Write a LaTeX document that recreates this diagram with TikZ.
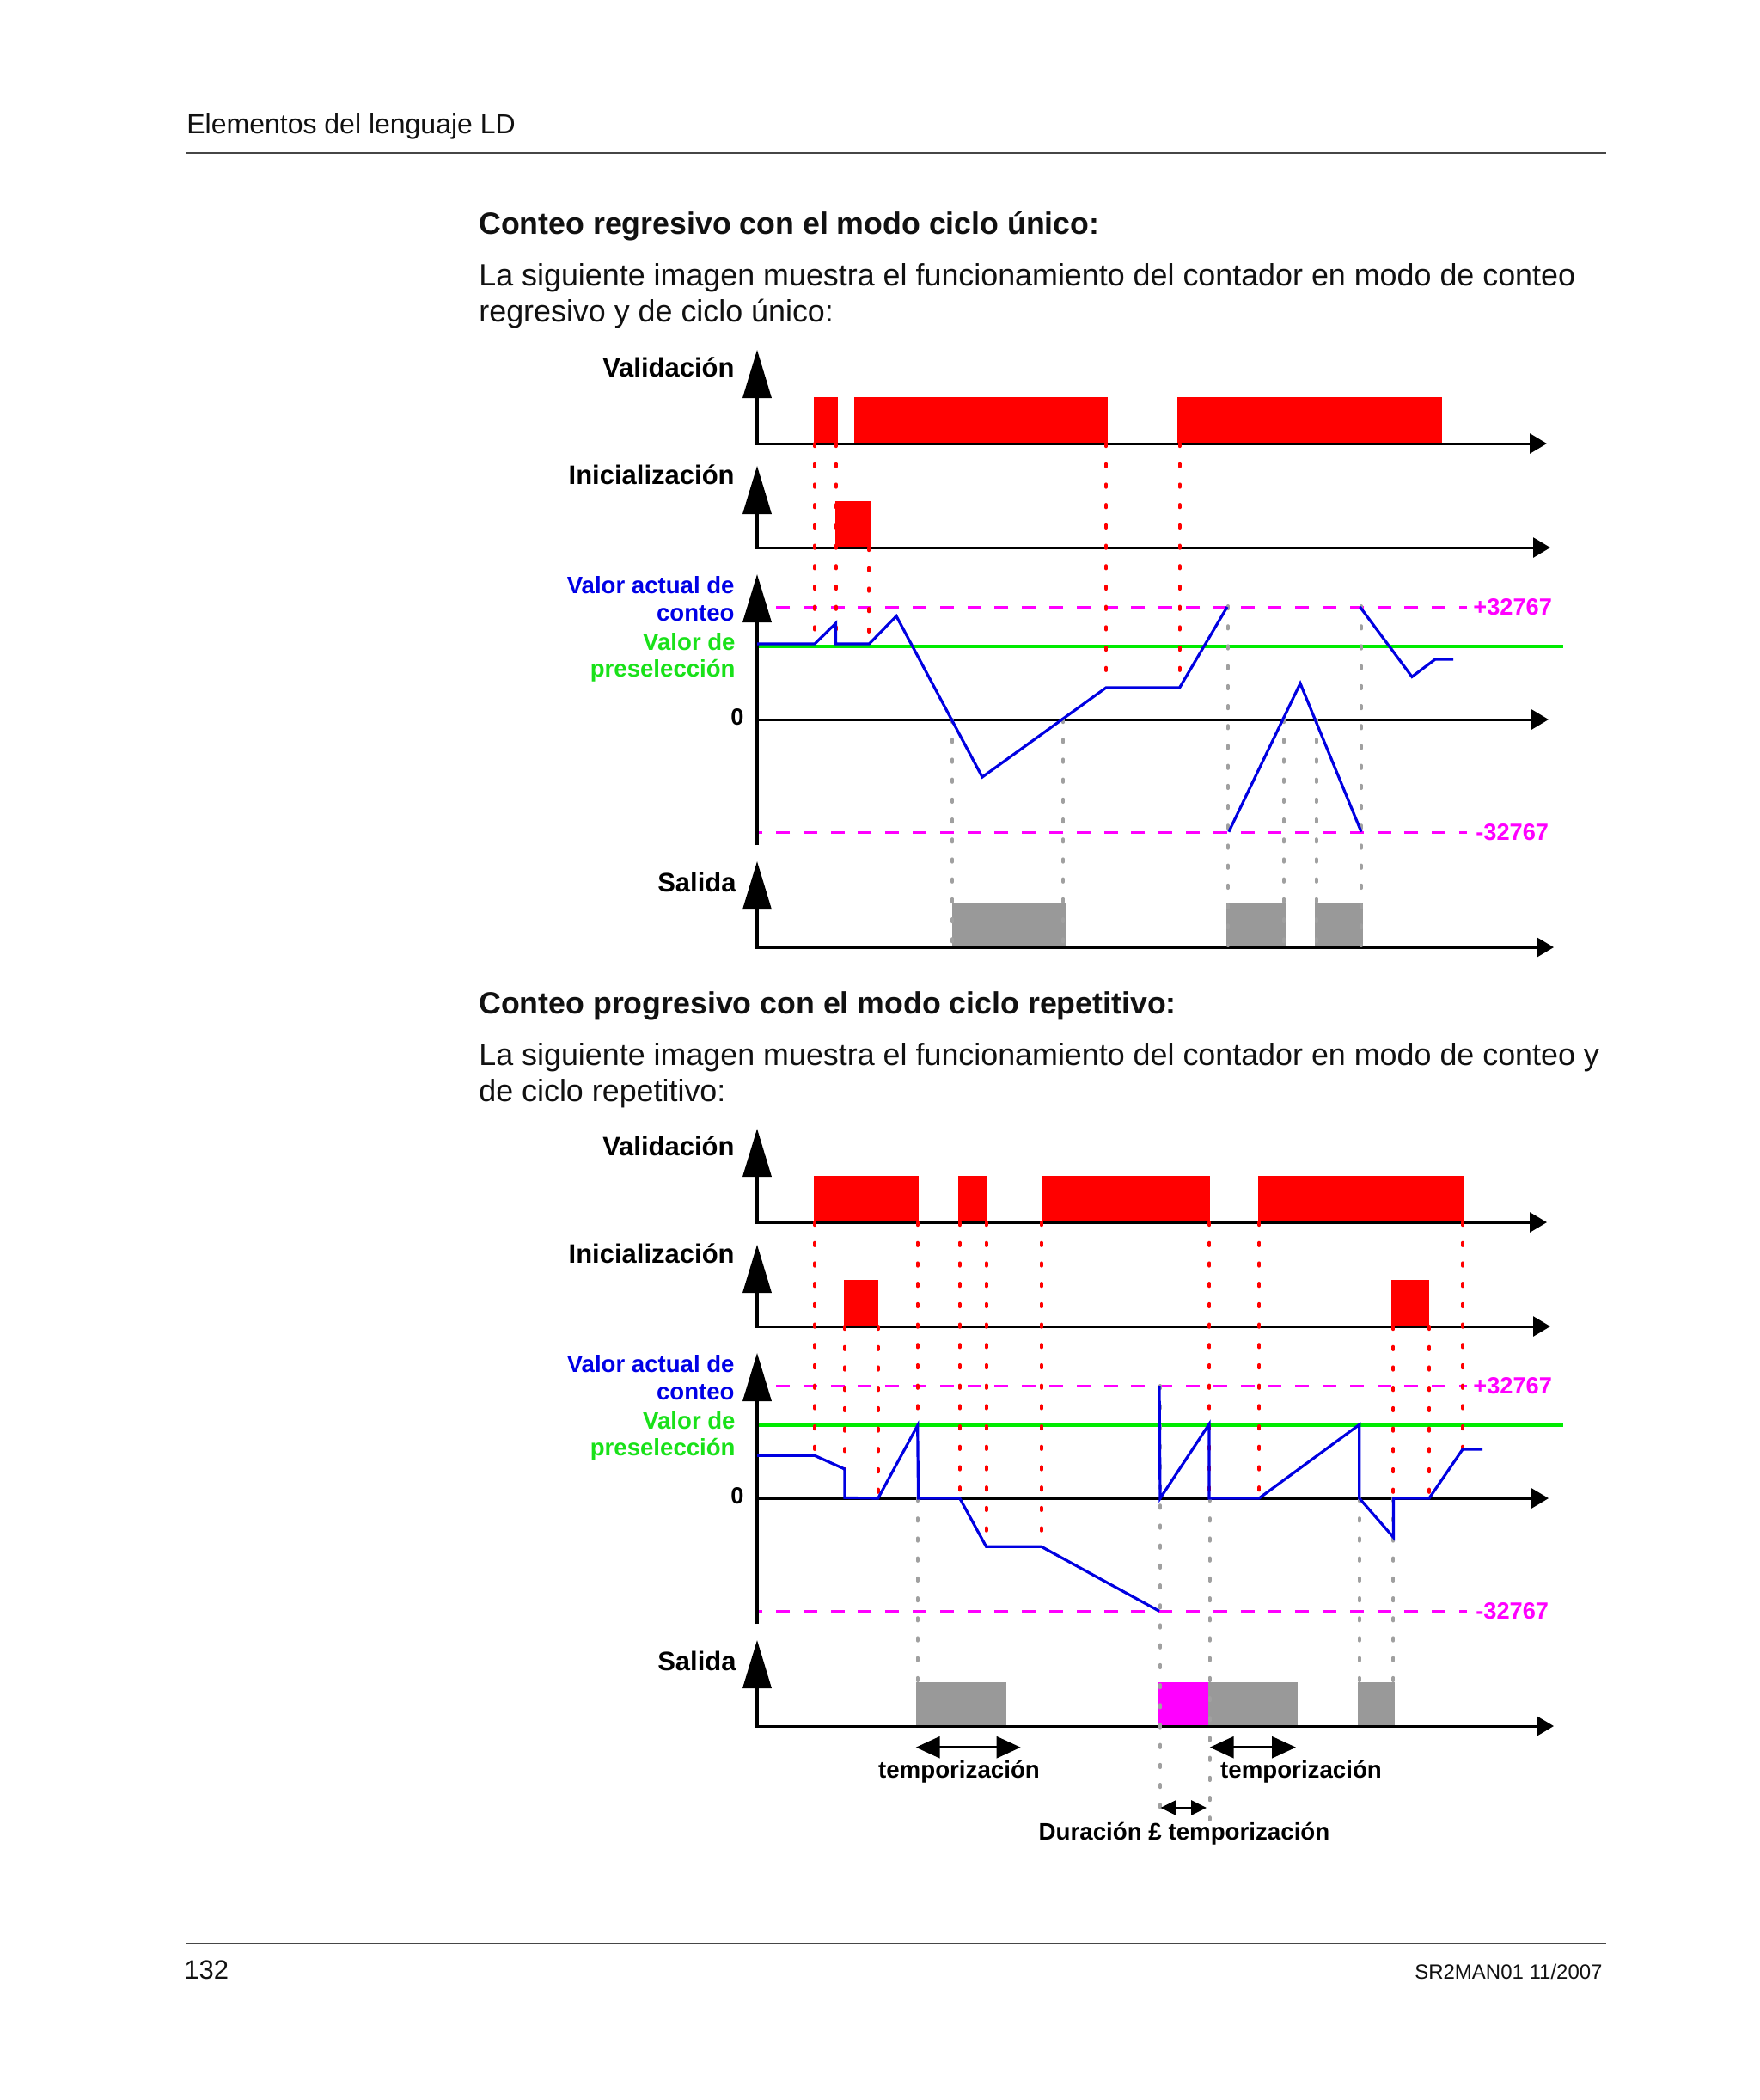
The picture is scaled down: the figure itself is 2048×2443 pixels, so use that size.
\documentclass[tikz,border=0pt]{standalone}
\usepackage{fontspec}
\setmainfont{Liberation Sans}
\usetikzlibrary{arrows.meta}
\definecolor{cblue}{RGB}{0,0,225}
\definecolor{cbluetxt}{RGB}{0,0,230}
\definecolor{cgreen}{RGB}{0,235,0}
\definecolor{cgreentxt}{RGB}{25,225,25}
\definecolor{cmag}{RGB}{255,0,255}
\definecolor{cred}{RGB}{255,0,0}
\definecolor{cblock}{RGB}{153,153,153}
\definecolor{cdot}{RGB}{160,160,160}
\definecolor{crule}{RGB}{70,70,70}
\definecolor{ctext}{RGB}{17,17,17}
\tikzset{
  axv/.style={line width=1.75pt,-{Triangle[length=28pt,width=16.5pt]}},
  axh/.style={line width=1.5pt,-{Triangle[length=10pt,width=11.5pt]}},
  reddots/.style={draw=cred,line width=2pt,line cap=round,dash pattern=on 1.6pt off 10.25pt},
  graydots/.style={draw=cdot,line width=2pt,line cap=round,dash pattern=on 1.6pt off 10pt},
  limitline/.style={draw=cmag,line width=1.5pt,dash pattern=on 8pt off 7.9pt,dash phase=3.5pt},
  presetline/.style={draw=cgreen,line width=2pt},
  countline/.style={draw=cblue,line width=1.6pt,line join=miter},
  redpulse/.style={fill=cred},
  outblock/.style={fill=cblock},
  lbl/.style={inner sep=0pt,anchor=base east,font=\bfseries\fontsize{15.5}{18}\selectfont},
  smalllbl/.style={inner sep=0pt,anchor=base east,font=\bfseries\fontsize{13.8}{16}\selectfont},
  numlbl/.style={inner sep=0pt,anchor=base west,text=cmag,font=\bfseries\fontsize{13.6}{16}\selectfont},
  dimarrow/.style={line width=1.5pt,{Triangle[length=14pt,width=12.5pt]}-{Triangle[length=14pt,width=12.5pt]}},
  smallarrow/.style={line width=1.5pt,{Triangle[length=9pt,width=8.5pt]}-{Triangle[length=9pt,width=8.5pt]}},
  dimlbl/.style={inner sep=0pt,anchor=base,font=\bfseries\fontsize{13.85}{16}\selectfont},
  bodytxt/.style={inner sep=0pt,anchor=base west,text=ctext,font=\fontsize{17.93}{21}\selectfont},
  headtxt/.style={inner sep=0pt,anchor=base west,text=ctext,font=\bfseries\fontsize{17.85}{21}\selectfont},
}
% levels drawn under the axes
\newcommand{\tlevels}{%
  \draw[limitline] (1707,706) -- (903,706);
  \draw[limitline] (1707,968) -- (879,968);
  \draw[presetline] (881,752) -- (1819,752);
}
% axes and labels of one diagram
\newcommand{\tframe}[1]{%
  \draw[axv] (881,516) -- (881,407);
  \draw[axh] (879,516) -- (1800,516);
  \draw[axv] (881,637) -- (881,542);
  \draw[axh] (879,637) -- (1804,637);
  \draw[axv] (881,983) -- (881,668);
  \draw[axh] (881,837) -- (1802,837);
  \draw[axv] (881,1102) -- (881,1002);
  \draw[axh] (879,1102) -- (1808,1102);
  \node[lbl] (#1val) at (855,438) {Validación};
  \node[lbl] (#1ini) at (855,563) {Inicialización};
  \node[smalllbl,text=cbluetxt] (#1cva) at (855,690) {Valor actual de};
  \node[smalllbl,text=cbluetxt] (#1cvb) at (855,722) {conteo};
  \node[smalllbl,text=cgreentxt] (#1pva) at (856,756) {Valor de};
  \node[smalllbl,text=cgreentxt] (#1pvb) at (856,787) {preselección};
  \node[smalllbl,font=\bfseries\fontsize{13.6}{16}\selectfont] (#1zero) at (866,843) {0};
  \node[lbl] (#1out) at (857,1037) {Salida};
  \node[numlbl] (#1pmax) at (1714,715) {+32767};
  \node[numlbl] (#1pmin) at (1717,977) {-32767};
}
\begin{document}
\begin{tikzpicture}[x=0.5pt,y=-0.5pt]
\useasboundingbox (0,0) rectangle (2048,2443);
\fill[white] (0,0) rectangle (2048,2443);

% ---------- page header / footer ----------
\node[inner sep=0pt,anchor=base west,text=ctext,font=\fontsize{16}{19}\selectfont] (hdr) at (217,155) {Elementos del lenguaje LD};
\draw[crule,line width=1.1pt] (217,178) -- (1869,178);
\draw[crule,line width=1.1pt] (217,2261) -- (1869,2261);
\node[inner sep=0pt,anchor=base west,text=ctext,font=\fontsize{15.5}{18}\selectfont] (pnum) at (214,2302) {132};
\node[inner sep=0pt,anchor=base east,text=ctext,font=\fontsize{12}{14}\selectfont] (docref) at (1865,2302) {SR2MAN01 11/2007};

% ---------- texts ----------
\node[headtxt] (h1) at (557,272) {Conteo regresivo con el modo ciclo único:};
\node[bodytxt] (p1a) at (557,332) {La siguiente imagen muestra el funcionamiento del contador en modo de conteo};
\node[bodytxt] (p1b) at (557,374) {regresivo y de ciclo único:};
\node[headtxt] (h2) at (557,1179) {Conteo progresivo con el modo ciclo repetitivo:};
\node[bodytxt] (p2a) at (557,1239) {La siguiente imagen muestra el funcionamiento del contador en modo de conteo y};
\node[bodytxt] (p2b) at (557,1281) {de ciclo repetitivo:};

% =================== TOP DIAGRAM ===================
\fill[redpulse] (946.7,462) rectangle (974.8,516);
\fill[redpulse] (993.5,462) rectangle (1288.6,516);
\fill[redpulse] (1370,462) rectangle (1678,516);
\fill[redpulse] (971.7,583) rectangle (1013,637);
\fill[outblock] (1108,1051) rectangle (1239.5,1102);
\fill[outblock] (1427,1050) rectangle (1496.5,1102);
\fill[outblock] (1530,1050) rectangle (1586,1102);
\tlevels
\tframe{a}
\draw[reddots] (948,516) -- (948,752);
\draw[reddots] (972.6,516) -- (972.6,752);
\draw[reddots] (1011.4,637) -- (1011.4,752);
\draw[reddots] (1287,516) -- (1287,800);
\draw[reddots] (1372.6,516) -- (1372.6,800);
\draw[graydots] (1108,837) -- (1108,1100);
\draw[graydots] (1237,837) -- (1237,1100);
\draw[graydots] (1428.8,705) -- (1428.8,1100);
\draw[graydots] (1494,837) -- (1494,1100);
\draw[graydots] (1531.6,837) -- (1531.6,1100);
\draw[graydots] (1584,705) -- (1584,1100);
\draw[countline] (881,749) -- (948,749) -- (972.6,725) -- (972.6,749) -- (1011.4,749)
  -- (1043,716.7) -- (1143,904) -- (1287,800) -- (1372.6,800) -- (1428,706);
\draw[countline] (1429.8,967.7) -- (1513,795) -- (1584,967.7);
\draw[countline] (1582.5,706) -- (1643,787.3) -- (1670,767) -- (1691,767);

% =================== BOTTOM DIAGRAM ===================
\fill[redpulse] (946.7,1368) rectangle (1068.6,1422);
\fill[redpulse] (1114.5,1368) rectangle (1149,1422);
\fill[redpulse] (1212,1368) rectangle (1407.7,1422);
\fill[redpulse] (1463.9,1368) rectangle (1703.5,1422);
\fill[redpulse] (981.5,1489) rectangle (1022,1543);
\fill[redpulse] (1619,1489) rectangle (1663,1543);
\fill[outblock] (1066,1957) rectangle (1171,2008);
\fill[cmag] (1348,1957) rectangle (1405.5,2008);
\fill[outblock] (1405.5,1957) rectangle (1510,2008);
\fill[outblock] (1579.5,1957) rectangle (1623,2008);
\begin{scope}[shift={(0,906)}]
\tlevels
\tframe{b}
\end{scope}
\draw[reddots] (948,1422) -- (948,1693);
\draw[reddots] (982.9,1543) -- (982.9,1709);
\draw[reddots] (1021.7,1543) -- (1021.7,1743);
\draw[reddots] (1067.7,1422) -- (1067.7,1658);
\draw[reddots] (1116.8,1422) -- (1116.8,1743);
\draw[reddots] (1147.6,1422) -- (1147.6,1799);
\draw[reddots] (1211.9,1422) -- (1211.9,1799);
\draw[reddots] (1407.3,1422) -- (1407.3,1743);
\draw[reddots] (1465.3,1422) -- (1465.3,1743);
\draw[reddots] (1621.2,1543) -- (1621.2,1743);
\draw[reddots] (1663,1543) -- (1663,1743);
\draw[reddots] (1702,1422) -- (1702,1686);
\draw[graydots] (1067.7,1743) -- (1067.7,1957);
\draw[graydots] (1350,1612) -- (1350,2117);
\draw[graydots] (1407.5,1743) -- (1407.5,2117);
\draw[graydots] (1581.8,1743) -- (1581.8,1957);
\draw[graydots] (1621.4,1743) -- (1621.4,1957);
\draw[countline] (881,1693.3) -- (948,1693.3) -- (982.9,1709) -- (982.9,1742.3) -- (1021.7,1743)
  -- (1067.7,1658.3) -- (1068.6,1743) -- (1116.8,1743) -- (1147.6,1799.3) -- (1211.9,1799.3) -- (1349,1874.3);
\draw[countline] (1349,1612) -- (1350,1743) -- (1407,1656.7) -- (1407,1743) -- (1465,1743)
  -- (1581.8,1657.3) -- (1581.8,1743) -- (1621.4,1788.3) -- (1621.4,1743) -- (1663,1743)
  -- (1702,1686) -- (1725,1686);

% dimension arrows
\coordinate (t1a) at (1065.7,2032.7);
\coordinate (t1b) at (1187.6,2032.7);
\coordinate (t2a) at (1407.7,2032.7);
\coordinate (t2b) at (1508,2032.7);
\coordinate (d1a) at (1350.5,2103);
\coordinate (d1b) at (1404,2103);
\draw[dimarrow] (t1a) -- (t1b);
\draw[dimarrow] (t2a) -- (t2b);
\draw[smallarrow] (d1a) -- (d1b);
\node[dimlbl] (tl1) at (1116,2068) {temporización};
\node[dimlbl] (tl2) at (1514,2068) {temporización};
\node[dimlbl] (dl1) at (1378,2140) {Duración £ temporización};
\end{tikzpicture}
\end{document}
